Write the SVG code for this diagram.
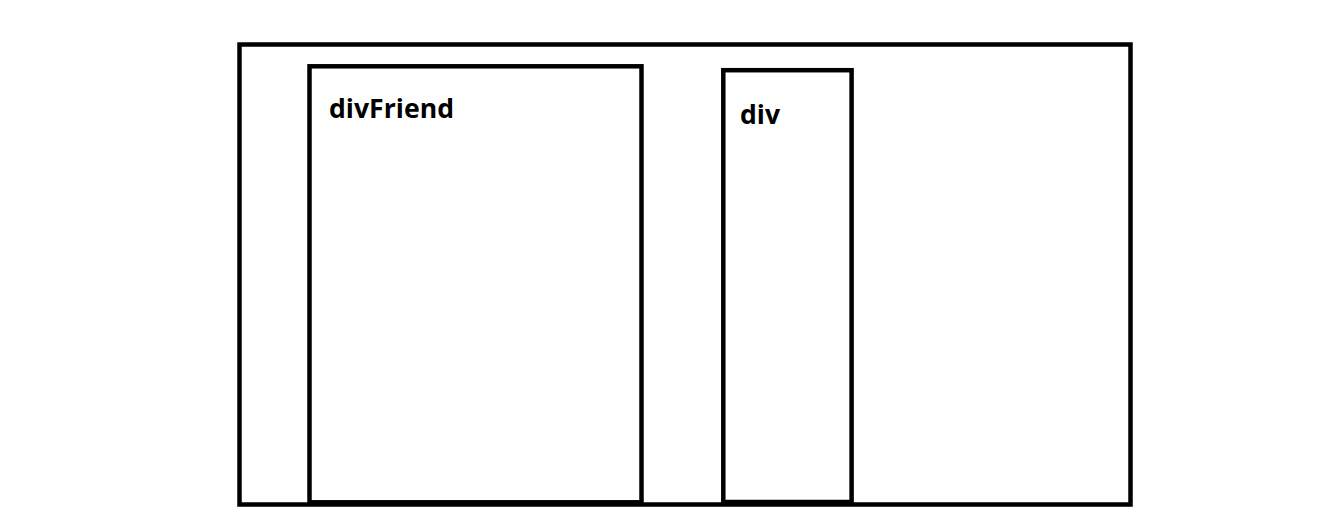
<svg xmlns="http://www.w3.org/2000/svg" width="1344" height="518" viewBox="0 0 1344 518">
<style>
.box{fill:none;stroke:#000;stroke-width:4.5}
.lbl{font-family:"Open Sans","Noto Sans","DejaVu Sans",sans-serif;font-weight:bold;font-size:27px;fill:#000}
</style>
<rect width="1344" height="518" fill="#fff"/>
<g id="outer">
<rect class="box" x="239.5" y="44.5" width="891" height="460"/>
</g>
<g id="divFriend">
<rect class="box" x="309.5" y="66.3" width="332" height="436"/>
<text class="lbl" x="329" y="117.5" textLength="125" lengthAdjust="spacingAndGlyphs">divFriend</text>
</g>
<g id="div">
<rect class="box" x="723.3" y="70.2" width="128.3" height="431.8"/>
<text class="lbl" x="740" y="124" textLength="40" lengthAdjust="spacingAndGlyphs">div</text>
</g>
<g id="connectors"/>
</svg>
